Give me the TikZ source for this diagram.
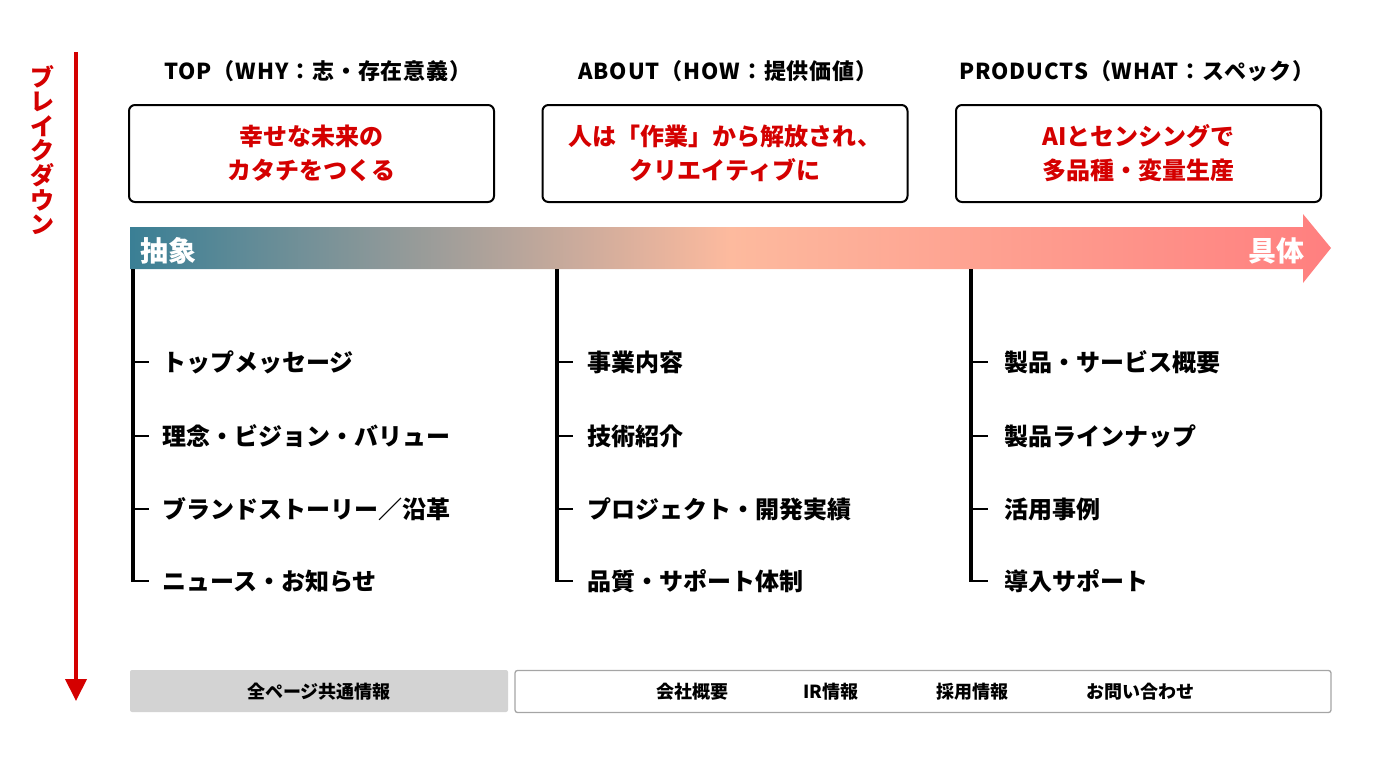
\documentclass[tikz,border=0pt]{standalone}
\usepackage{fontspec}
\setmainfont{Noto Sans CJK JP}
\newfontfamily\hdrfont{Noto Sans CJK JP}[LetterSpace=4]
\usetikzlibrary{arrows.meta}
\definecolor{brred}{RGB}{212,0,0}
\definecolor{gA}{RGB}{58,127,149}
\definecolor{gB}{RGB}{253,186,158}
\definecolor{gC}{RGB}{255,127,127}
\definecolor{boxgray}{RGB}{211,211,211}
\definecolor{edgegray}{RGB}{165,165,165}
\begin{document}
\begin{tikzpicture}[x=1pt,y=-1pt,
  hdr/.style={inner sep=0pt, font=\hdrfont\fontsize{22}{24}\selectfont\bfseries},
  titlebox/.style={draw=black, line width=2pt, rounded corners=6pt,
    minimum width=365pt, minimum height=97pt, align=center, text=brred,
    font=\fontsize{24}{34}\selectfont\bfseries},
  bartext/.style={inner sep=0pt, text=white, font=\fontsize{28}{30}\selectfont\bfseries},
  item/.style={anchor=west, inner sep=0pt, font=\fontsize{24}{28}\selectfont\bfseries},
  treeline/.style={line width=4pt},
  tick/.style={line width=1.5pt},
  foot/.style={inner sep=0pt, font=\fontsize{18}{20}\selectfont\bfseries},
  redarrow/.style={draw=brred, line width=4pt, -{Triangle[width=21pt,length=22pt]}}
]
\useasboundingbox (0,0) rectangle (1374,772);

% vertical "breakdown" arrow
\coordinate (rtop) at (76,52);
\coordinate (rbot) at (76,701);
\draw[redarrow] (rtop) -- (rbot);
\node[text=brred, align=center, inner sep=0pt,
  font=\fontsize{24}{24.6}\selectfont\bfseries] (bd) at (42,150) {ブ\\レ\\イ\\ク\\ダ\\ウ\\ン};

% headers
\node[hdr] (h1) at (318,71) {TOP（WHY：志・存在意義）};
\node[hdr] (h2) at (728,71) {ABOUT（HOW：提供価値）};
\node[hdr] (h3) at (1137,71) {PRODUCTS（WHAT：スペック）};

% title boxes
\node[titlebox] (b1) at (311.5,153.5) {幸せな未来の\\カタチをつくる};
\node[titlebox] (b2) at (725,153.5) {人は「作業」から解放され、\\クリエイティブに};
\node[titlebox] (b3) at (1138.5,153.5) {AIとセンシングで\\多品種・変量生産};

% gradient arrow bar
\shade[left color=gA, right color=gC, middle color=gB]
  (130,227) -- (1303,227) -- (1303,214) -- (1331,248) -- (1303,283) -- (1303,269) -- (130,269) -- cycle;
\node[bartext, anchor=west] (abs) at (140,251) {抽象};
\node[bartext, anchor=east] (con) at (1305,251) {具体};

% column 1
\coordinate (t1) at (133,269);
\node[item] (i11) at (162,362) {トップメッセージ};
\node[item] (i12) at (162,436) {理念・ビジョン・バリュー};
\node[item] (i13) at (162,509) {ブランドストーリー／沿革};
\node[item] (i14) at (162,581) {ニュース・お知らせ};
\draw[treeline] (t1) -- ([yshift=-1pt]t1 |- i14.west);
\foreach \n in {i11,i12,i13,i14}
  \draw[tick] ([xshift=-2pt]t1 |- \n.west) -- ([xshift=-13pt]\n.west);

% column 2
\coordinate (t2) at (557,269);
\node[item] (i21) at (587,362) {事業内容};
\node[item] (i22) at (587,436) {技術紹介};
\node[item] (i23) at (587,509) {プロジェクト・開発実績};
\node[item] (i24) at (587,581) {品質・サポート体制};
\draw[treeline] (t2) -- ([yshift=-1pt]t2 |- i24.west);
\foreach \n in {i21,i22,i23,i24}
  \draw[tick] ([xshift=-2pt]t2 |- \n.west) -- ([xshift=-14pt]\n.west);

% column 3
\coordinate (t3) at (971,269);
\node[item] (i31) at (1004,362) {製品・サービス概要};
\node[item] (i32) at (1004,436) {製品ラインナップ};
\node[item] (i33) at (1004,509) {活用事例};
\node[item] (i34) at (1004,581) {導入サポート};
\draw[treeline] (t3) -- ([yshift=-1pt]t3 |- i34.west);
\foreach \n in {i31,i32,i33,i34}
  \draw[tick] ([xshift=-2pt]t3 |- \n.west) -- ([xshift=-16pt]\n.west);

% footer
\node[fill=boxgray, rounded corners=2pt, minimum width=378pt, minimum height=42pt, inner sep=0pt] (common) at (319,691) {};
\node[foot] (commont) at (319,692) {全ページ共通情報};
\node[draw=edgegray, line width=1.3pt, rounded corners=2.5pt, minimum width=816pt, minimum height=42pt, inner sep=0pt] (links) at (923,691.5) {};
\node[foot] (l1) at (692,692) {会社概要};
\node[foot] (l2) at (831,692) {IR情報};
\node[foot] (l3) at (972,692) {採用情報};
\node[foot] (l4) at (1140,692) {お問い合わせ};
\end{tikzpicture}
\end{document}
